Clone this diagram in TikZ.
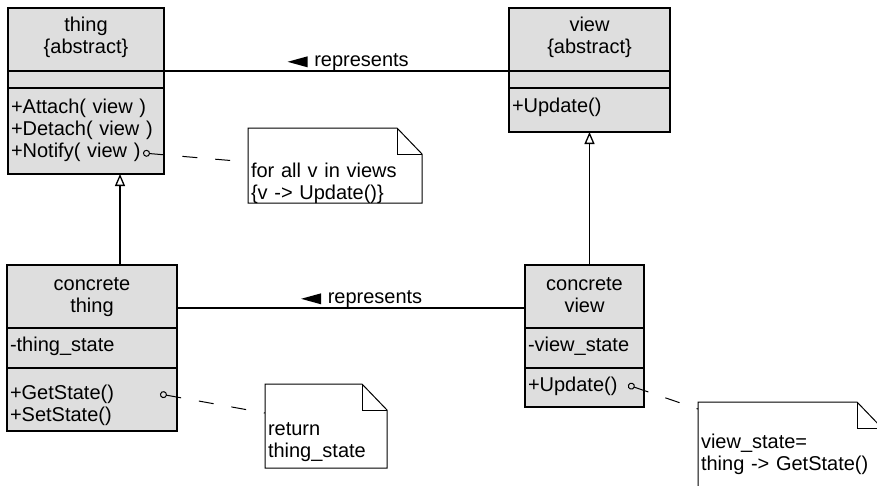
\documentclass[tikz,border=0pt]{standalone}
\usepackage{fontspec}
\setmainfont{Liberation Sans}
\usetikzlibrary{
    arrows.meta,
    calc
}
\tikzset {
    part/.style = {
        draw, fill = black!13, line width = 1.3pt,
        anchor = north west, inner xsep = 3pt, inner ysep = 0pt, outer sep = 0pt
    },
    name part/.style = {part, align = center},
    list part/.style = {part, align = left},
    part height/.style 2 args = {text height = #1, text depth = #2},
    note/.style = {
        anchor = north west, align = left,
        inner xsep = 3pt, inner ysep = 0pt, outer sep = 0pt
    },
    note outline/.style = {line width = 1pt},
    note link/.style = {line width = 1pt, dash pattern = on 15pt off 18pt},
    inherits/.style = {line width = 1.3pt, -{Triangle[open, length = 12pt, width = 10pt]}},
    association/.style = {line width = 1.3pt},
    role/.style = {above, inner sep = 0pt}
}

\begin{document}
\begin{tikzpicture}[x = 1pt, y = -1pt, font = \fontsize{20pt}{22pt}\selectfont]
    \useasboundingbox (0, 0) rectangle (877, 485);
    \clip (0, 0) rectangle (877, 485);
    % thing
    \node [name part, text width = 150pt, part height = {23pt}{40pt}] (thing name) at (8, 8) {thing\\\{abstract\}};
    \node [list part, text width = 150pt, part height = {17pt}{0pt}] (thing attr) at (thing name.south west) {};
    \node [list part, text width = 150pt, part height = {25.5pt}{60.5pt}] (thing ops) at (thing attr.south west) {+Attach( view )\\+Detach( view )\\+Notify( view )};
    % view
    \node [name part, text width = 155pt, part height = {23pt}{40pt}] (view name) at (509, 8) {view\\\{abstract\}};
    \node [list part, text width = 155pt, part height = {17pt}{0pt}] (view attr) at (view name.south west) {};
    \node [list part, text width = 155pt, part height = {24.5pt}{19.5pt}] (view ops) at (view attr.south west) {+Update()};
    % concrete thing
    \node [name part, text width = 164pt, part height = {25pt}{38pt}] (cthing name) at (7, 265) {concrete\\thing};
    \node [list part, text width = 164pt, part height = {23pt}{17pt}] (cthing attr) at (cthing name.south west) {-thing\_state};
    \node [list part, text width = 164pt, part height = {31pt}{32pt}] (cthing ops) at (cthing attr.south west) {+GetState()\\+SetState()};
    % concrete view
    \node [name part, text width = 113pt, part height = {25pt}{38pt}] (cview name) at (525, 265) {concrete\\view};
    \node [list part, text width = 113pt, part height = {23pt}{17pt}] (cview attr) at (cview name.south west) {-view\_state};
    \node [list part, text width = 113pt, part height = {23pt}{16pt}] (cview ops) at (cview attr.south west) {+Update()};
    % notes
    \node [note, text width = 168pt, part height = {49pt}{26pt}] (note1) at (248, 128) {for all v in views\\\{v -> Update()\}};
    \node [note, text width = 116pt, part height = {51pt}{33pt}] (note2) at (265, 384) {return\\thing\_state};
    \node [note, text width = 178pt, part height = {46pt}{47pt}] (note3) at (698, 402) {view\_state=\\thing -> GetState()};
    \foreach \n in {note1, note2, note3} {
        \draw [note outline] (\n.north west) -- ([xshift = -25pt]\n.north east)
            -- ([yshift = -26pt]\n.north east) -- (\n.south east) -- (\n.south west) -- cycle;
        \draw [note outline] ([xshift = -25pt]\n.north east) |- ([yshift = -26pt]\n.north east);
    }
    % associations
    \draw [association] (thing name.south east) -- (view name.south west)
        node [role, midway, xshift = 25pt] (rep top) {represents};
    \draw [association] ([yshift = -11.5pt]cthing name.east) -- ([yshift = -11.5pt]cview name.west)
        node [role, midway, xshift = 24pt] (rep bottom) {represents};
    \foreach \r in {rep top, rep bottom} {
        \fill ($(\r.west) + (-26, 0)$) -- ++(20, -5.5) -- ++(0, 11) -- cycle;
    }
    % generalizations
    \draw [inherits] ([xshift = 28pt]cthing name.north) -- ([xshift = 34pt]thing ops.south);
    \draw [inherits] (cview name.north -| view ops.south) -- (view ops.south);
    % note links
    \coordinate (notify) at (143, 153);
    \coordinate (get state) at (160, 394);
    \coordinate (update) at (628, 385);
    \draw [note link, {Circle[open, length = 7pt]}-] (notify) -- ([yshift = 3.5pt]note1.west);
    \draw [note link, {Circle[open, length = 7pt]}-] (get state) -- ([yshift = 13pt]note2.west);
    \draw [note link, {Circle[open, length = 7pt]}-] (update) -- ([yshift = -7pt]note3.north west);
\end{tikzpicture}
\end{document}
